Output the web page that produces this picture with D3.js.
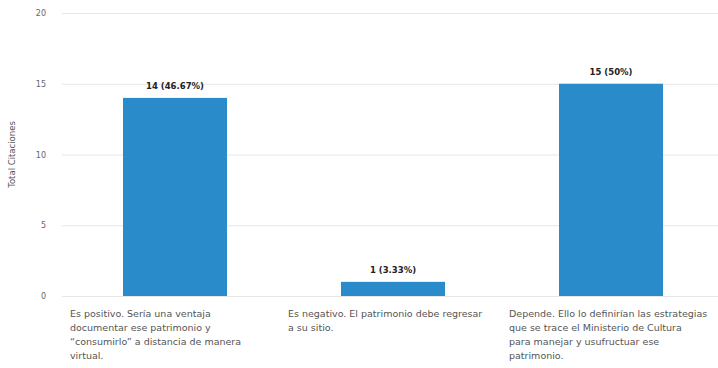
<!DOCTYPE html>
<html>
<head>
<meta charset="utf-8">
<script src="https://cdn.jsdelivr.net/npm/d3@7"></script>
<style>
  body { margin: 0; background: #fff; }
  text { font-family: "DejaVu Sans", Verdana, sans-serif; }
</style>
</head>
<body>
<svg id="chart"></svg>
<script>
// Chart size
const svgWidth = 718
const svgHeight = 368
const margin = { top: 13, right: 0, bottom: 72, left: 66 }

// Data
const categoryLines = [
  ['Es positivo. Sería una ventaja', 'documentar ese patrimonio y', '“consumirlo” a distancia de manera', 'virtual.'],
  ['Es negativo. El patrimonio debe regresar', 'a su sitio.'],
  ['Depende. Ello lo definirían las estrategias', 'que se trace el Ministerio de Cultura', 'para manejar y usufructuar ese', 'patrimonio.']
]
const counts = [14, 1, 15]
const percents = ['46.67%', '3.33%', '50%']
const yTicks = [0, 5, 10, 15, 20]

const svg = d3.select('#chart')
  .attr('width', svgWidth)
  .attr('height', svgHeight)

// Scales
const x = d3.scaleBand()
  .domain(d3.range(counts.length))
  .range([margin.left, svgWidth - margin.right + 2])
  .paddingInner(0.523)
  .paddingOuter(0.2615)

const y = d3.scaleLinear()
  .domain([0, 20])
  .range([svgHeight - margin.bottom, margin.top])

// Grid lines and y tick labels
const yAxis = d3.axisLeft(y)
  .tickValues(yTicks)
  .tickSize(-(svgWidth - margin.left + 4))
  .tickPadding(16)

svg.append('g')
  .attr('transform', `translate(${margin.left - 4}, 0)`)
  .call(yAxis)
  .call(g => g.select('.domain').remove())
  .call(g => g.selectAll('.tick line').attr('stroke', '#e6e6e6'))
  .call(g => g.selectAll('.tick text')
    .attr('fill', '#666')
    .style('font-size', '8px'))

// Y axis title
svg.append('text')
  .attr('transform', `translate(15, ${(svgHeight - margin.bottom + margin.top) / 2}) rotate(-90)`)
  .attr('text-anchor', 'middle')
  .attr('fill', '#555')
  .style('font-size', '8.5px')
  .text('Total Citaciones')

// Bars
svg.append('g')
  .selectAll('rect')
  .data(counts)
  .join('rect')
  .attr('x', (d, i) => x(i))
  .attr('y', d => y(d))
  .attr('width', x.bandwidth())
  .attr('height', d => y(0) - y(d))
  .attr('fill', '#2a8bcb')

// Value labels
svg.append('g')
  .selectAll('text')
  .data(counts)
  .join('text')
  .attr('x', (d, i) => x(i) + x.bandwidth() / 2)
  .attr('y', d => y(d) - 9)
  .attr('text-anchor', 'middle')
  .attr('fill', '#222')
  .style('font-size', '8.5px')
  .style('font-weight', 'bold')
  .text((d, i) => `${d} (${percents[i]})`)

// Category labels (wrapped lines)
const step = x.step()
const catLabels = svg.append('g')
  .selectAll('text')
  .data(categoryLines)
  .join('text')
  .attr('x', (d, i) => x(i) - step * 0.2615 + 4 + (i === 2 ? 3 : 0))
  .attr('y', y(0) + 21)
  .attr('fill', '#555')
  .style('font-size', '9.5px')

catLabels.selectAll('tspan')
  .data(d => d)
  .join('tspan')
  .attr('x', function () { return d3.select(this.parentNode).attr('x') })
  .attr('dy', (d, i) => i === 0 ? 0 : 14)
  .text(d => d)
</script>
</body>
</html>
